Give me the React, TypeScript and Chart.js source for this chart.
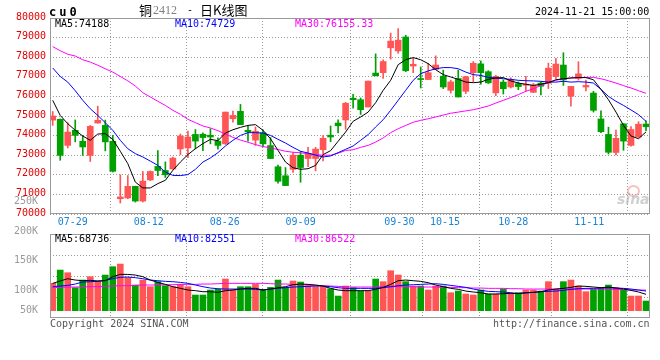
import React, { useEffect, useRef } from 'react';
import { Chart, registerables } from 'chart.js';

Chart.register(...registerables);

// ---------------- data ----------------
const opens = [
  74790, 74830, 73500, 74270, 73710, 72990, 74640, 74520, 73710, 70780,
  70820, 71410, 70660, 71740, 72430, 72220, 72300, 73320, 73370, 74060,
  74070, 74020, 73720, 73580, 74860, 75240, 74270, 73770, 74140, 73490,
  72410, 71950, 72280, 73000, 72830, 72830, 73280, 74020, 74640, 74800,
  75910, 75830, 75460, 77190, 77210, 78480, 78320, 79030, 77550, 76910,
  76860, 77380, 77030, 76310, 76910, 76260, 77210, 77660, 77260, 76180,
  76730, 76480, 76650, 76570, 76210, 76680, 76670, 77010, 77600, 76010,
  76920, 76480, 76170, 74850, 74060, 73140, 74600, 73500, 73930, 74590,
];
const highs = [
  75230, 74850, 74660, 74800, 74010, 74520, 75500, 74790, 74010, 72000,
  71960, 71420, 72170, 72200, 73230, 72660, 72900, 74080, 74230, 74310,
  74140, 74350, 73880, 75200, 75250, 75590, 74490, 74440, 74300, 73900,
  72500, 72370, 73140, 73190, 73400, 73400, 74000, 74490, 74800, 75700,
  76100, 75920, 76780, 78170, 77870, 79230, 79460, 79120, 77950, 77500,
  77690, 78070, 77340, 76830, 77340, 77030, 77780, 77810, 77310, 77070,
  76840, 76950, 76740, 77030, 76660, 76740, 77700, 77940, 78230, 76520,
  77770, 76830, 76260, 75260, 74430, 74280, 74610, 74460, 74710, 74750,
];
const lows = [
  74520, 72740, 73370, 73680, 72990, 72680, 74640, 73220, 72140, 70560,
  70780, 70610, 70610, 71700, 71960, 71860, 72280, 73030, 72880, 73330,
  73230, 73580, 73310, 73550, 74690, 74560, 73720, 73500, 73420, 72830,
  71570, 71450, 72120, 71620, 72410, 72200, 72710, 73690, 74140, 74320,
  75400, 75080, 75460, 77050, 76920, 77900, 78200, 77260, 77210, 76430,
  76860, 77380, 76400, 76170, 75970, 76140, 76740, 76620, 76660, 76040,
  76120, 76430, 76340, 76280, 76190, 76070, 76400, 76910, 76560, 75500,
  76830, 76280, 75200, 74150, 73060, 73010, 73250, 73460, 73900, 74250,
];
const closes = [
  75000, 72990, 74180, 74010, 73420, 74470, 74780, 73680, 72180, 70870,
  71410, 70660, 71680, 72170, 72220, 72000, 72850, 73980, 73930, 73720,
  73900, 73930, 73500, 75200, 75030, 74560, 74190, 74220, 73580, 72830,
  71670, 71450, 73000, 72370, 73090, 73310, 73860, 73930, 74500, 75650,
  75830, 75320, 76780, 77050, 77780, 78820, 78870, 77310, 77640, 76860,
  77210, 77600, 76480, 76740, 75970, 77000, 77690, 77210, 76690, 77020,
  76390, 76850, 76500, 76600, 76580, 76520, 77440, 77650, 76840, 76510,
  77150, 76560, 75290, 74200, 73150, 73860, 73720, 74310, 74580, 74450,
];
const ma5 = [
  75800, 75030, 74610, 74270, 73980, 73760, 74080, 74100, 73810, 73200,
  72570, 71630, 71330, 71330, 71550, 71720, 72230, 72650, 73030, 73330,
  73590, 73810, 73740, 74130, 74300, 74420, 74520, 74560, 74270, 73840,
  73250, 72650, 72360, 72280, 72310, 72480, 73030, 73230, 73710, 74180,
  74730, 74950, 75200, 75680, 76310, 76820, 77620, 77870, 77980, 77870,
  77670, 77360, 77110, 76990, 76870, 76730, 76700, 76730, 76870, 76940,
  76960, 76790, 76680, 76620, 76560, 76620, 76700, 76850, 76900, 76940,
  76960, 76960, 76850, 76360, 75830, 75200, 74520, 73980, 73840, 74188,
];
const ma10 = [
  77450, 77020, 76730, 76290, 75800, 75370, 75030, 74660, 74270, 73760,
  73330, 73080, 72910, 72700, 72480, 72140, 71970, 71960, 72010, 72280,
  72650, 72860, 73130, 73470, 73760, 74010, 74150, 74150, 74130, 74010,
  73810, 73620, 73400, 73200, 73110, 73000, 72910, 72960, 73130, 73300,
  73470, 73760, 74050, 74440, 74810, 75290, 75800, 76310, 76820, 77160,
  77300, 77410, 77470, 77470, 77410, 77240, 77110, 77070, 76970, 76940,
  76900, 76870, 76820, 76800, 76790, 76770, 76730, 76730, 76770, 76730,
  76750, 76730, 76680, 76360, 76000, 75750, 75540, 75310, 75070, 74729,
];
const ma30 = [
  78540, 78330, 78150, 78060, 77870, 77750, 77590, 77410, 77240, 77020,
  76790, 76530, 76190, 75970, 75750, 75540, 75290, 75090, 74830, 74660,
  74490, 74390, 74250, 74080, 73910, 73770, 73660, 73540, 73440, 73370,
  73290, 73200, 73150, 73120, 73080, 73030, 73000, 73000, 73100, 73240,
  73280, 73400, 73500, 73670, 73880, 74150, 74350, 74520, 74680, 74780,
  74860, 74950, 75050, 75140, 75200, 75260, 75320, 75410, 75510, 75660,
  75800, 75940, 76090, 76260, 76390, 76560, 76700, 76820, 76900, 76940,
  76960, 76970, 76970, 76900, 76800, 76680, 76550, 76430, 76290, 76155.33,
];
const volumes = [
  114900, 170800, 159600, 96700, 128800, 143000, 124800, 149800, 184900, 196000,
  138700, 107900, 128800, 100800, 122000, 105100, 100800, 110600, 100800, 65900,
  65900, 86900, 89700, 133100, 86900, 100800, 100800, 110600, 89700, 98000,
  128800, 98000, 124800, 120500, 105100, 100800, 100800, 92000, 61600, 103600,
  96700, 82600, 82600, 133100, 122000, 168000, 149800, 122000, 103600, 103600,
  86900, 103600, 103600, 75500, 82600, 70000, 65900, 86900, 70000, 70000,
  91000, 70000, 75500, 86900, 86900, 82600, 122000, 89700, 122000, 128800,
  103600, 79800, 89700, 96700, 107900, 96700, 86900, 61600, 61600, 40700,
];
const volMa5 = [
  114900, 124800, 134400, 128800, 126000, 127500, 124800, 126000, 143000, 152600,
  152600, 149800, 143000, 128800, 119000, 110600, 100800, 93900, 86900, 84100,
  79800, 79800, 77000, 84100, 86900, 91000, 93900, 93900, 86900, 91000,
  96700, 100800, 109100, 112100, 110600, 107900, 103600, 93900, 86900, 84100,
  84100, 84100, 84100, 89700, 98000, 110600, 126000, 128800, 126000, 123300,
  117700, 107900, 100800, 93900, 89700, 82600, 78500, 75500, 70000, 70000,
  71500, 72800, 72800, 75500, 77000, 79800, 86900, 91000, 93900, 98000,
  103600, 102300, 99500, 96700, 99500, 95200, 91000, 85400, 78500, 68736,
];
const volMa10 = [
  100800, 103600, 106400, 112100, 120500, 121800, 123300, 127500, 134400, 140200,
  141500, 138700, 134400, 128800, 126000, 123300, 121800, 119000, 114900, 107900,
  100800, 95200, 92400, 91000, 91000, 91000, 91000, 89700, 86900, 91000,
  93900, 96700, 99500, 100800, 102300, 103600, 103600, 100800, 96700, 93900,
  93900, 93900, 93900, 93900, 96700, 100800, 105100, 107900, 109100, 110600,
  112100, 113400, 110600, 106400, 102300, 98000, 91000, 85400, 81300, 79800,
  78500, 75500, 71500, 74300, 77000, 79800, 81300, 82600, 85400, 89700,
  92400, 93900, 93900, 95200, 96700, 95200, 93900, 91000, 86900, 82551,
];
const volMa30 = [
  96700, 98000, 99500, 99500, 99500, 100800, 100800, 102300, 103600, 105100,
  105100, 106400, 107900, 107900, 107900, 109100, 109100, 110600, 110600, 110600,
  112100, 112100, 113400, 114900, 114900, 114900, 114900, 114900, 114900, 113400,
  112100, 112100, 110600, 109100, 107900, 106400, 105100, 103600, 102300, 100800,
  99500, 99500, 99500, 99500, 100800, 100800, 100800, 100800, 100800, 99500,
  99500, 99500, 98000, 98000, 96700, 96700, 95200, 95200, 93900, 93900,
  93900, 92400, 92400, 91000, 91000, 91000, 91000, 91000, 91000, 91000,
  91000, 91000, 91000, 91000, 89700, 89700, 88200, 86900, 86900, 86522,
];
const dateLabels = ['07-29', '08-12', '08-26', '09-09', '09-30', '10-15', '10-28', '11-11'];
const dateIndices = [3, 13, 23, 33, 46, 52, 61, 71];
const volAxisTicks = [250000, 200000, 150000, 100000, 50000];

// ---------------- styles ----------------
const UP = '#ff5555';
const DOWN = '#00a000';
const GRID = '#9a9a9a';
const FRAME = '#9a9a9a';
const DATE_BLUE = '#1a84d6';
const MONO = "'DejaVu Sans Mono', 'Liberation Mono', monospace";

const framePlugin = {
  id: 'frame',
  afterDraw(chart: any) {
    const { ctx, chartArea: a } = chart;
    ctx.save();
    ctx.strokeStyle = FRAME;
    ctx.lineWidth = 1;
    ctx.setLineDash([]);
    ctx.strokeRect(a.left + 0.5, a.top + 0.5, a.right - a.left - 1, a.bottom - a.top - 1);
    ctx.restore();
  },
};

const idx = closes.map((_, i) => i);
const candleColors = () => closes.map((c, i) => (c >= opens[i] ? UP : DOWN));

const lineDs = (label: string, values: number[], color: string, yAxisID: string) => ({
  type: 'line',
  label,
  data: idx.map((i) => ({ x: i, y: values[i] })),
  borderColor: color,
  borderWidth: 1,
  pointRadius: 0,
  tension: 0,
  fill: false,
  order: 0,
  xAxisID: 'x',
  yAxisID,
});

const dataX = () => ({
  type: 'linear',
  display: false,
  min: -0.36,
  max: 79.53,
  offset: false,
  grid: { offset: false },
});

const gridX = (height: number, showLabels: boolean) => ({
  type: 'linear',
  position: 'bottom',
  min: 0,
  max: 79,
  offset: false,
  afterBuildTicks: (s: any) => {
    s.ticks = dateIndices.map((v) => ({ value: v }));
  },
  afterFit: (s: any) => {
    s.height = height;
  },
  ticks: {
    display: showLabels,
    autoSkip: false,
    maxRotation: 0,
    minRotation: 0,
    padding: 2,
    color: DATE_BLUE,
    font: { family: MONO, size: 10 },
    callback: (_v: any, i: number) => dateLabels[i],
  },
  grid: { color: GRID, drawTicks: false, lineWidth: 1 },
  border: { display: false, dash: [1, 2] },
});

function mainConfig(): any {
  const colors = candleColors();
  return {
    type: 'bar',
    data: {
      datasets: [
        lineDs('MA5', ma5, '#000000', 'y'),
        lineDs('MA10', ma10, '#0000ff', 'y'),
        lineDs('MA30', ma30, '#ff00ff', 'y'),
        {
          type: 'bar',
          label: 'body',
          data: idx.map((i) => ({ x: i, y: [opens[i], closes[i]] })),
          backgroundColor: colors,
          barThickness: 6,
          minBarLength: 1,
          grouped: false,
          order: 1,
          xAxisID: 'x',
          yAxisID: 'y',
        },
        {
          type: 'bar',
          label: 'wick',
          data: idx.map((i) => ({ x: i, y: [lows[i], highs[i]] })),
          backgroundColor: colors,
          barThickness: 1,
          grouped: false,
          order: 2,
          xAxisID: 'x',
          yAxisID: 'y',
        },
      ],
    },
    options: {
      responsive: false,
      animation: false,
      devicePixelRatio: 1,
      layout: { padding: { top: 18, right: 10, bottom: 0, left: 0 } },
      plugins: { legend: { display: false }, tooltip: { enabled: false } },
      scales: {
        x: dataX(),
        xg: gridX(146, true),
        y: {
          type: 'linear',
          position: 'left',
          min: 70000,
          max: 80000,
          beginAtZero: false,
          afterFit: (s: any) => {
            s.width = 50;
          },
          ticks: {
            stepSize: 1000,
            color: '#e60000',
            font: { family: MONO, size: 10 },
            padding: 4,
            labelOffset: -1,
            autoSkip: false,
            callback: (v: any) => String(v),
          },
          grid: { color: GRID, drawTicks: false, lineWidth: 1 },
          border: { display: false, dash: [1, 2] },
        },
      },
    },
    plugins: [framePlugin],
  };
}

function volConfig(): any {
  const colors = candleColors();
  return {
    type: 'bar',
    data: {
      datasets: [
        lineDs('VMA5', volMa5, '#000000', 'yv'),
        lineDs('VMA10', volMa10, '#0000ff', 'yv'),
        lineDs('VMA30', volMa30, '#ff00ff', 'yv'),
        {
          type: 'bar',
          label: 'volume',
          data: idx.map((i) => ({ x: i, y: volumes[i] })),
          backgroundColor: colors,
          barThickness: 6,
          grouped: false,
          order: 1,
          xAxisID: 'x',
          yAxisID: 'yv',
        },
      ],
    },
    options: {
      responsive: false,
      animation: false,
      devicePixelRatio: 1,
      layout: { padding: { top: 234, right: 10, bottom: 0, left: 0 } },
      plugins: { legend: { display: false }, tooltip: { enabled: false } },
      scales: {
        x: dataX(),
        xg: gridX(42, false),
        yv: {
          type: 'linear',
          position: 'left',
          min: -30700,
          max: 322300,
          beginAtZero: false,
          afterFit: (s: any) => {
            s.width = 0;
          },
          afterBuildTicks: (s: any) => {
            s.ticks = [1, 2, 3].map((k) => ({ value: s.min + ((s.max - s.min) * k) / 4 }));
          },
          ticks: { display: false },
          grid: { color: GRID, drawTicks: false, lineWidth: 1 },
          border: { display: false, dash: [1, 2] },
        },
        yl: {
          type: 'linear',
          position: 'left',
          min: 53700,
          max: 195100,
          beginAtZero: false,
          afterFit: (s: any) => {
            s.width = 50;
          },
          afterBuildTicks: (s: any) => {
            s.ticks = volAxisTicks.map((v) => ({ value: Math.max(v, s.min + 13000) }));
          },
          ticks: {
            color: '#9a9a9a',
            font: { family: MONO, size: 10 },
            padding: 4,
            autoSkip: false,
            callback: (_v: any, i: number) => `${volAxisTicks[i] / 1000}K`,
          },
          grid: { display: false },
          border: { display: false },
        },
      },
    },
    plugins: [framePlugin],
  };
}

const txt = (extra: React.CSSProperties): React.CSSProperties => ({
  position: 'absolute',
  fontFamily: MONO,
  fontSize: 10,
  lineHeight: '12px',
  whiteSpace: 'pre',
  color: '#000',
  ...extra,
});

export default function App() {
  const mainRef = useRef<HTMLCanvasElement>(null);
  const volRef = useRef<HTMLCanvasElement>(null);

  useEffect(() => {
    const c1 = new Chart(mainRef.current as HTMLCanvasElement, mainConfig());
    const c2 = new Chart(volRef.current as HTMLCanvasElement, volConfig());
    return () => {
      c1.destroy();
      c2.destroy();
    };
  }, []);

  const cjk = "'Noto Sans CJK SC', 'Noto Sans', sans-serif";

  return (
    <div
      style={{
        position: 'absolute',
        left: 0,
        top: 0,
        width: 660,
        height: 360,
        background: '#fff',
        overflow: 'hidden',
      }}
    >
      <canvas ref={mainRef} width={660} height={360} style={{ position: 'absolute', left: 0, top: 0 }} />
      <canvas ref={volRef} width={660} height={360} style={{ position: 'absolute', left: 0, top: 0 }} />

      {/* header */}
      <div style={txt({ left: 49, top: 5, fontSize: 12, lineHeight: '14px', fontWeight: 'bold', letterSpacing: '3px' })}>
        cu0
      </div>
      <div style={txt({ left: 139, top: 2.5, fontFamily: cjk, fontSize: 13, lineHeight: '14px' })}>铜</div>
      <div
        style={txt({
          left: 153,
          top: 3.3,
          fontFamily: "'Liberation Serif', 'DejaVu Serif', serif",
          fontSize: 12,
          lineHeight: '14px',
          color: '#808080',
        })}
      >
        2412
      </div>
      <div style={txt({ left: 187, top: 4 })}>-</div>
      <div style={txt({ left: 200, top: 2.5, fontFamily: cjk, fontSize: 13, lineHeight: '14px' })}>日K线图</div>
      <div style={txt({ left: 535, top: 5.5 })}>2024-11-21 15:00:00</div>

      {/* main MA legend */}
      <div style={txt({ left: 55, top: 18 })}>MA5:74188</div>
      <div style={txt({ left: 175, top: 18, color: '#0000ff' })}>MA10:74729</div>
      <div style={txt({ left: 295, top: 18, color: '#ff00ff' })}>MA30:76155.33</div>

      {/* volume MA legend */}
      <div style={txt({ left: 55, top: 232.5 })}>MA5:68736</div>
      <div style={txt({ left: 175, top: 232.5, color: '#0000ff' })}>MA10:82551</div>
      <div style={txt({ left: 295, top: 232.5, color: '#ff00ff' })}>MA30:86522</div>

      {/* footer */}
      <div style={txt({ left: 50, top: 317.5, color: '#555' })}>Copyright 2024 SINA.COM</div>
      <div style={txt({ left: 493, top: 318, color: '#555' })}>http://finance.sina.com.cn</div>

      {/* watermark */}
      <div
        style={{
          position: 'absolute',
          left: 627,
          top: 185,
          width: 9,
          height: 8,
          borderRadius: '50%',
          border: '2px solid rgba(235,120,120,0.45)',
        }}
      />
      <div
        style={txt({
          left: 617,
          top: 192,
          fontFamily: "'DejaVu Sans', sans-serif",
          fontSize: 14,
          lineHeight: '14px',
          fontWeight: 'bold',
          fontStyle: 'italic',
          color: 'rgba(170,170,170,0.55)',
        })}
      >
        sina
      </div>
    </div>
  );
}
